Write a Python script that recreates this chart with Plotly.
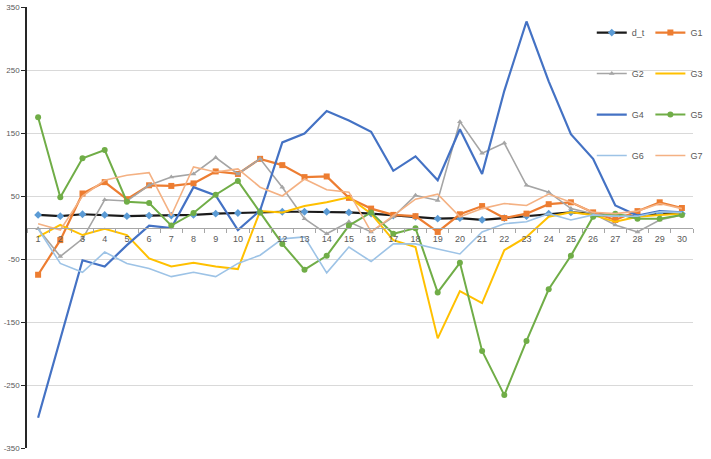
import plotly.graph_objects as go

categories = [str(i) for i in range(1, 31)]

d_t = [20, 18, 21, 20, 18, 19, 19, 20, 22, 23, 25, 25, 25, 25, 24, 22, 19, 17, 14, 15, 12, 15, 18, 22, 24, 22, 19, 18, 22, 22]
g1 = [-75, -20, 54, 72, 45, 67, 66, 70, 89, 85, 109, 99, 80, 81, 47, 30, 20, 18, -7, 21, 34, 15, 22, 37, 40, 24, 12, 26, 40, 31]
g2 = [-2, -46, -18, 44, 42, 67, 80, 85, 111, 85, 109, 64, 14, -10, 9, -7, 17, 51, 43, 168, 118, 134, 67, 56, 30, 22, 4, -7, 12, 20]
g3 = [-15, 4, -12, -2, -12, -49, -62, -56, -62, -66, 26, 24, 34, 40, 48, 22, -20, -31, -176, -101, -120, -36, -15, 17, 24, 20, 9, 17, 20, 22]
g4 = [-302, -176, -52, -62, -28, 3, -1, 64, 51, -4, 27, 135, 149, 185, 170, 152, 90, 113, 75, 156, 85, 217, 327, 232, 148, 109, 35, 19, 26, 24]
g5 = [175, 48, 110, 123, 41, 39, 3, 23, 52, 74, 24, -26, -67, -45, 3, 24, -10, -1, -103, -56, -196, -266, -180, -98, -45, 17, 22, 14, 14, 20]
g6 = [-2, -57, -71, -39, -57, -65, -78, -71, -78, -57, -44, -18, -15, -72, -31, -54, -26, -26, -34, -42, -7, 6, 9, 22, 12, 20, 18, 18, 25, 24]
g7 = [6, -4, 50, 75, 83, 87, 19, 96, 88, 93, 64, 50, 77, 60, 56, -7, 19, 45, 53, 17, 30, 38, 35, 53, 40, 24, 22, 26, 38, 30]

y_ticks = [-350, -250, -150, -50, 50, 150, 250, 350]

series = [
    ("d_t", d_t, "#1a1a1a", 2.2, "diamond", "#5B9BD5", 6, "legend"),
    ("G1", g1, "#ED7D31", 2.2, "square", "#ED7D31", 6, "legend2"),
    ("G2", g2, "#A5A5A5", 1.6, "triangle-up", "#A5A5A5", 5, "legend"),
    ("G3", g3, "#FFC000", 2.0, None, None, 0, "legend2"),
    ("G4", g4, "#4472C4", 2.2, None, None, 0, "legend"),
    ("G5", g5, "#70AD47", 2.0, "circle", "#70AD47", 6, "legend2"),
    ("G6", g6, "#9DC3E6", 1.6, None, None, 0, "legend"),
    ("G7", g7, "#F4B183", 1.6, None, None, 0, "legend2"),
]

fig = go.Figure()
for name, vals, color, w, sym, mcol, msize, leg in series:
    kw = dict(x=categories, y=vals, name=name, legend=leg, legendgroup=name,
              line=dict(color=color, width=w))
    if sym:
        kw["mode"] = "lines+markers"
        kw["marker"] = dict(symbol=sym, color=mcol, size=msize, line=dict(width=0))
    else:
        kw["mode"] = "lines"
    fig.add_trace(go.Scatter(**kw))

font_fam = "Liberation Sans, Arial, sans-serif"
legend_common = dict(
    bgcolor="rgba(0,0,0,0)", borderwidth=0, orientation="v",
    font=dict(family=font_fam, size=9, color="#595959"),
    tracegroupgap=22, yanchor="top", xanchor="left", y=0.975,
    itemwidth=30,
)

fig.update_layout(
    width=711, height=459,
    margin=dict(l=27, r=3, t=5, b=11),
    paper_bgcolor="white", plot_bgcolor="white",
    font=dict(family=font_fam, size=9, color="#595959"),
    showlegend=True,
    legend=dict(x=0.848, **legend_common),
    legend2=dict(x=0.936, **legend_common),
    shapes=[dict(type="rect", xref="paper", yref="paper", layer="below",
                 x0=0.878, x1=1.0, y0=0.62, y1=0.985,
                 fillcolor="white", line=dict(width=0))],
    xaxis=dict(
        type="category", range=[-0.5, 29.5],
        anchor="free", position=0.5,
        showline=True, linecolor="#A6A6A6", linewidth=1.2,
        ticks="outside", tickson="boundaries", ticklen=4, tickcolor="#A6A6A6",
        ticklabelstandoff=3,
        showgrid=False, zeroline=False,
        tickfont=dict(family=font_fam, size=9, color="#595959"),
    ),
    yaxis=dict(
        range=[-350, 350], tickvals=y_ticks, ticktext=[str(v) for v in y_ticks],
        showgrid=True, gridcolor="#D9D9D9", gridwidth=1,
        showline=True, linecolor="#262626", linewidth=1.5,
        ticks="outside", ticklen=4, tickcolor="#262626",
        ticklabeloverflow="allow",
        zeroline=False,
        tickfont=dict(family=font_fam, size=8, color="#595959"),
    ),
)

fig.write_html("out.html")
